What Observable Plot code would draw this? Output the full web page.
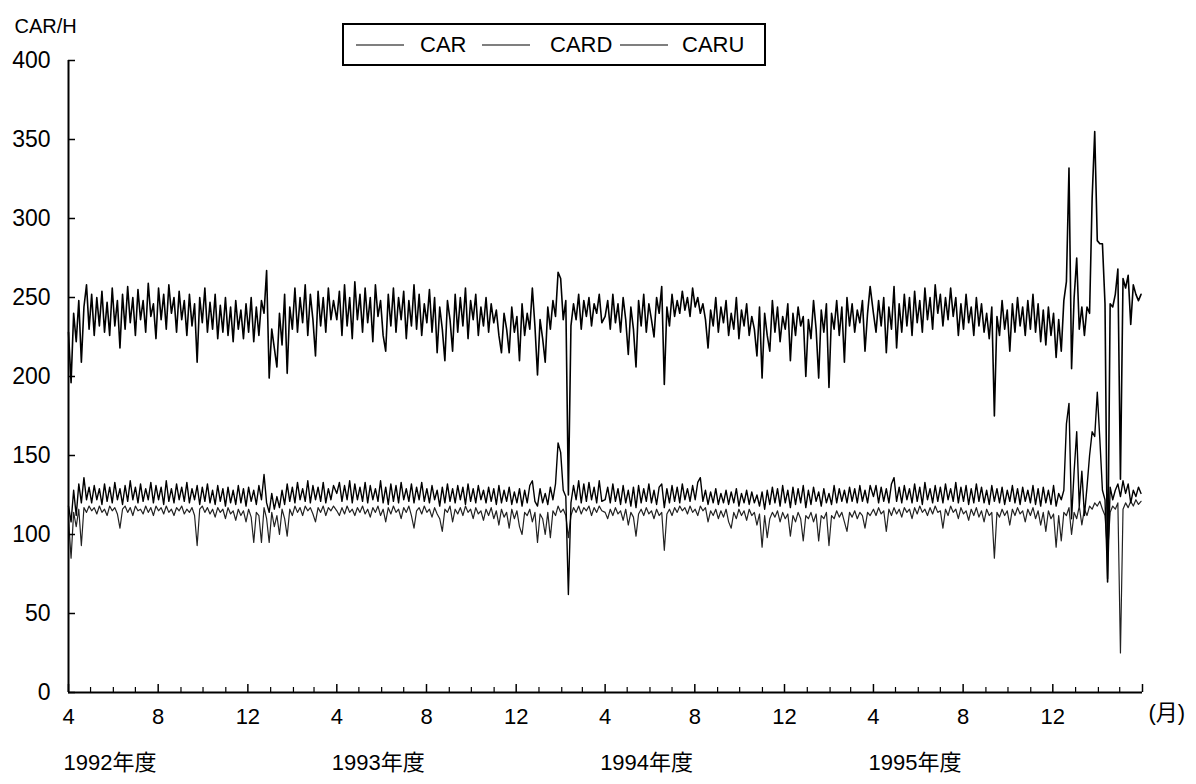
<!DOCTYPE html>
<html><head><meta charset="utf-8">
<script src="https://cdn.jsdelivr.net/npm/d3@7"></script>
<script src="https://cdn.jsdelivr.net/npm/@observablehq/plot@0.6"></script>
<style>
body{margin:0;background:#fff;}
#wrap{position:relative;width:1196px;height:784px;}
#legend{position:absolute;left:342px;top:23px;width:420px;height:39px;border:2px solid #000;font:22px "Liberation Sans",Arial,sans-serif;color:#000;}
#legend span{position:absolute;top:50%;transform:translateY(-50%);white-space:nowrap;}
#legend .sw{height:0;border-top:1.6px solid #000;width:48px;}
</style></head>
<body><div id="wrap"><div id="legend"></div></div>
<script>
// ---- data (values every half week, from April 1 of each fiscal year) ----
const seriesNames = ["CAR", "CARD", "CARU"];
const fiscalYears = [1992, 1993, 1994, 1995];
const yTicks = [0, 50, 100, 150, 200, 250, 300, 350, 400];
const monthLabels = [4, 8, 12];
const yearSuffix = "年度";
const unitLabel = "(月)";
const yTitle = "CAR/H";

const car1992 = [228,196,240,222,248,209,244,258,230,252,226,250,232,254,228,247,226,256,232,248,218,252,230,257,234,250,226,255,236,248,228,259,238,246,224,256,236,252,230,258,240,250,228,254,236,248,226,252,232,246,209,250,234,256,228,247,230,252,224,245,228,250,226,244,222,248,230,242,224,246,228,250,222,244,226,248,240,267,199,230,218,206,240,220,252,202,244,230,256,228,250,234,258,226,252,236,213,254,232,250,228,256,236,248];
const car1993 = [236,254,226,258,232,250,224,260,236,252,228,256,234,250,222,258,238,248,226,216,252,232,256,228,250,236,254,224,248,232,258,230,252,226,246,234,255,228,250,215,244,230,210,248,236,216,252,228,250,232,256,224,248,236,252,226,244,232,250,228,246,234,242,226,215,240,230,215,244,228,238,210,246,226,240,230,256,232,201,236,224,209,244,230,248,238,266,262,236,248,125,232,246,236,252,230,248,238,250,232,246,240,252,234];
const car1994 = [238,248,230,252,234,246,228,250,236,214,244,230,206,248,232,252,228,246,236,225,250,240,257,195,244,232,252,238,248,240,254,242,250,238,256,244,250,240,246,236,218,242,232,250,228,244,234,248,226,240,230,250,224,242,232,246,226,238,230,213,244,199,240,226,216,248,228,244,222,238,230,246,210,240,226,244,232,238,200,236,224,248,230,199,242,228,246,193,240,230,248,226,244,209,250,232,246,228,242,234,248,216,240,257];
const car1995 = [240,228,248,232,250,215,244,230,257,218,246,228,252,232,250,226,254,234,248,228,256,236,250,230,258,240,252,232,250,236,256,238,250,226,246,230,252,234,244,226,250,232,246,228,240,224,244,175,238,226,248,230,242,216,246,228,250,232,244,226,248,230,252,228,246,222,242,220,244,226,240,212,236,216,248,260,332,205,250,275,230,244,226,244,240,313,355,286,284,284,246,70,246,244,252,268,135,262,256,264,233,258,252,248,252];

const card1992 = [118,108,128,112,132,120,136,122,130,120,131,122,129,119,132,121,130,120,133,122,129,119,131,121,134,122,130,120,132,121,129,122,133,120,131,122,130,119,134,121,129,120,132,122,130,121,133,120,129,122,131,119,130,121,132,120,128,119,131,121,129,118,130,120,128,119,131,120,129,118,130,121,128,119,131,122,138,120,114,126,116,124,117,128,119,132,121,130,120,133,122,129,121,134,120,131,122,130,121,133,120,129,122,131];
const card1993 = [126,133,121,131,122,134,120,132,122,130,121,133,120,131,122,129,121,134,120,130,119,132,121,131,120,133,122,129,121,132,120,130,122,133,121,129,120,131,122,128,118,130,120,132,121,129,120,131,122,130,119,132,121,129,120,131,122,128,120,130,121,129,119,131,120,128,121,130,119,127,120,129,118,128,120,131,134,121,118,129,120,126,119,130,122,132,158,152,128,124,62,120,131,122,134,120,132,121,133,122,130,120,134,121];
const card1994 = [122,130,120,132,121,129,119,131,120,128,118,130,117,131,120,129,121,132,120,128,119,130,132,117,129,120,131,121,130,120,132,122,129,121,131,122,133,136,121,128,119,127,120,129,119,126,120,128,119,127,120,129,118,126,120,128,119,127,120,125,118,127,116,128,119,130,120,129,118,131,120,128,117,130,119,129,120,131,117,128,119,130,121,127,118,129,120,126,119,131,120,129,121,128,120,130,121,129,120,131,121,128,120,131];
const card1995 = [124,131,120,130,121,129,120,132,136,121,130,120,131,122,129,120,132,121,130,119,133,122,129,120,131,121,130,120,132,122,129,121,133,120,130,121,131,119,129,120,132,121,130,120,128,119,131,121,129,120,130,119,128,121,131,120,129,119,130,121,128,120,131,119,129,118,130,120,128,119,131,118,126,122,128,170,183,110,140,165,118,140,112,130,150,165,162,190,160,128,122,72,130,122,128,132,124,134,126,132,120,128,124,130,126];

const caru1992 = [110,85,114,105,116,93,117,114,118,115,117,113,118,114,116,112,118,115,117,113,104,116,118,114,117,112,118,115,116,113,118,114,117,112,118,115,117,113,118,114,116,112,117,115,118,113,116,114,117,112,93,116,118,114,117,113,116,111,117,114,116,110,117,113,115,109,116,112,115,108,116,111,95,114,112,95,117,110,95,114,105,112,100,116,110,99,116,112,118,114,117,112,118,115,117,113,108,117,114,118,112,117,115,118];
const caru1993 = [115,112,117,113,118,114,116,112,117,114,118,113,116,111,117,114,118,112,116,108,117,113,118,114,116,110,117,114,118,112,104,115,117,113,118,114,116,111,117,113,110,102,116,114,118,108,116,113,117,112,118,114,116,110,117,113,115,109,116,112,117,110,115,106,116,111,114,104,116,110,115,105,100,114,112,116,108,114,95,113,110,100,114,98,115,112,118,114,116,112,98,112,117,114,118,113,117,115,118,112,117,114,118,115];
const caru1994 = [114,110,116,112,117,113,115,109,116,106,114,111,99,113,116,112,117,113,115,110,116,112,114,90,113,116,112,117,114,118,115,117,113,118,114,116,112,118,115,117,108,115,112,116,110,115,111,116,108,104,114,110,116,112,115,109,116,112,114,106,113,92,112,98,110,114,111,115,108,114,110,113,99,112,108,114,110,96,112,110,114,108,113,96,112,110,114,93,112,110,115,111,114,108,102,114,111,115,110,114,112,104,114,112];
const caru1995 = [116,112,117,113,115,102,116,112,117,113,116,111,117,114,116,110,117,113,118,114,116,112,117,113,118,114,115,104,116,112,118,114,116,110,117,113,115,109,116,112,117,111,115,108,116,112,114,85,114,111,116,112,115,106,116,112,117,113,115,108,116,112,117,110,115,106,114,102,115,110,113,92,112,96,114,112,117,100,114,110,118,106,116,112,118,116,120,118,121,116,112,88,114,118,116,120,25,116,120,117,121,118,122,119,121];

// ---- build table ----
const seriesByYear = {
  CAR: [car1992, car1993, car1994, car1995],
  CARD: [card1992, card1993, card1994, card1995],
  CARU: [caru1992, caru1993, caru1994, caru1995]
};
const HALF_WEEK = 3.5 * 86400000;
const rows = [];
for (const name of seriesNames) {
  seriesByYear[name].forEach((arr, k) => {
    const t0 = Date.UTC(fiscalYears[k], 3, 1);
    arr.forEach((v, i) => rows.push({series: name, date: new Date(t0 + i * HALF_WEEK), value: v}));
  });
}

const start = new Date(Date.UTC(fiscalYears[0], 3, 1));
const end = new Date(Date.UTC(fiscalYears[fiscalYears.length - 1] + 1, 3, 1));
const allMonths = d3.utcMonth.range(start, d3.utcDay.offset(end, 1));
const majorTicks = allMonths.filter(d => monthLabels.includes(d.getUTCMonth() + 1));
const minorTicks = allMonths.filter(d => !monthLabels.includes(d.getUTCMonth() + 1));
const fmtMonth = d => (+d === +end ? "" : String(d.getUTCMonth() + 1));

const FONT = '"Liberation Sans", Arial, "Noto Sans CJK JP", sans-serif';

const chart = Plot.plot({
  width: 1196,
  height: 784,
  marginLeft: 68,
  marginRight: 54,
  marginTop: 60,
  marginBottom: 92,
  style: {fontFamily: FONT, fontSize: "22px", color: "#000", background: "#fff"},
  x: {type: "utc", domain: [start, end], label: null},
  y: {domain: [0, 400], label: null},
  marks: [
    Plot.line(rows.filter(d => d.series === "CARU"), {x: "date", y: "value", stroke: "#222", strokeWidth: 1.2}),
    Plot.line(rows.filter(d => d.series === "CARD"), {x: "date", y: "value", stroke: "#000", strokeWidth: 1.4}),
    Plot.line(rows.filter(d => d.series === "CAR"), {x: "date", y: "value", stroke: "#000", strokeWidth: 1.6}),
    Plot.axisY({ticks: yTicks, tickSize: -7, tickPadding: 25, fontSize: 23, label: null, strokeWidth: 1.5}),
    Plot.axisX({ticks: majorTicks, tickSize: -8, tickPadding: 24, tickFormat: fmtMonth, fontSize: 22, label: null, strokeWidth: 1.5}),
    Plot.axisX({ticks: minorTicks, tickSize: -5, tickFormat: () => "", label: null, strokeWidth: 1.2}),
    Plot.ruleY([0], {strokeWidth: 2}),
    Plot.ruleX([start], {strokeWidth: 2}),
    Plot.text(fiscalYears, {x: y => new Date(Date.UTC(y, 3, 1)), text: y => y + yearSuffix, frameAnchor: "bottom", dy: 77, dx: -5, textAnchor: "start", fontSize: 22}),
    Plot.text([unitLabel], {frameAnchor: "bottom-right", dx: 6, dy: 27, textAnchor: "start", fontSize: 22}),
    Plot.text([yTitle], {frameAnchor: "top-left", dx: -54, dy: -42, textAnchor: "start", fontSize: 20})
  ]
});
document.getElementById("wrap").prepend(chart);

// ---- legend ----
const legend = document.getElementById("legend");
const swLeft = [12, 138, 276];
const txtLeft = [76, 206, 338];
seriesNames.forEach((name, i) => {
  const sw = document.createElement("span");
  sw.className = "sw";
  sw.style.left = swLeft[i] + "px";
  legend.appendChild(sw);
  const t = document.createElement("span");
  t.textContent = name;
  t.style.left = txtLeft[i] + "px";
  legend.appendChild(t);
});
</script>
</body></html>
